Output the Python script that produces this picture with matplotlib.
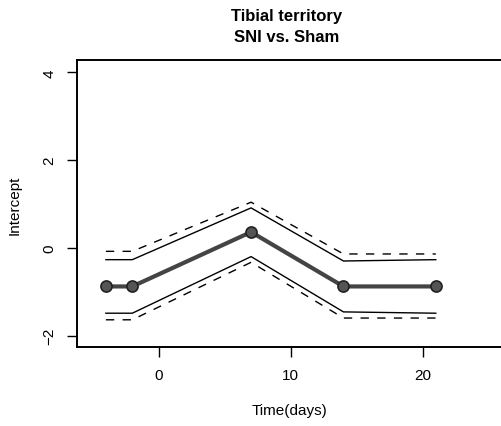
#!/usr/bin/env python3

import matplotlib.pyplot as plt
import numpy as np

plt.rcParams['font.family'] = ['Liberation Sans', 'DejaVu Sans']

# Time points and estimated intercepts with bands
days = [-4, -2, 7, 14, 21]
intercept = [-0.88, -0.88, 0.36, -0.88, -0.88]
upper_inner = [-0.27, -0.27, 0.91, -0.30, -0.27]
lower_inner = [-1.49, -1.49, -0.20, -1.46, -1.49]
upper_outer = [-0.08, -0.08, 1.04, -0.14, -0.14]
lower_outer = [-1.64, -1.64, -0.33, -1.60, -1.60]

x_ticks = [0, 10, 20]
y_ticks = [-2, 0, 2, 4]

W, H = 502, 427
fig = plt.figure(figsize=(W / 100, H / 100), dpi=100)

# axes box in pixels (frame runs past the right edge, as in the scan)
left, top, bottom, right = 77, 61, 348, 515
ax = fig.add_axes([left / W, 1 - bottom / H, (right - left) / W, (bottom - top) / H])

ax.plot(days, upper_outer, color='black', lw=1.0, ls=(0, (6, 6)))
ax.plot(days, lower_outer, color='black', lw=1.0, ls=(0, (6, 6)))
ax.plot(days, upper_inner, color='black', lw=1.0)
ax.plot(days, lower_inner, color='black', lw=1.0)
ax.plot(days, intercept, color='#444444', lw=3.0, marker='o', ms=8,
        markerfacecolor='#555555', markeredgecolor='#222222', markeredgewidth=1.2)

ax.set_xlim(-6.19, 27.0)
ax.set_ylim(-2.26, 4.28)
ax.set_xticks(x_ticks)
ax.set_yticks(y_ticks)
ax.set_yticklabels([str(v).replace('-', '\u2212') for v in y_ticks], rotation=90, va='center')
ax.tick_params(direction='out', length=7, width=1.0, labelsize=11, pad=8)
for s in ax.spines.values():
    s.set_linewidth(1.4)

fig.text(287 / W, 1 - 17 / H, 'Tibial territory', ha='center', va='center',
         fontsize=12, fontweight='bold')
fig.text(287 / W, 1 - 38 / H, 'SNI vs. Sham', ha='center', va='center',
         fontsize=12, fontweight='bold')
fig.text(290 / W, 1 - 411 / H, 'Time(days)', ha='center', va='center', fontsize=11)
fig.text(15 / W, 1 - 205 / H, 'Intercept', ha='center', va='center', fontsize=11,
         rotation=90)

plt.savefig('out.png', dpi=100)
plt.close()
